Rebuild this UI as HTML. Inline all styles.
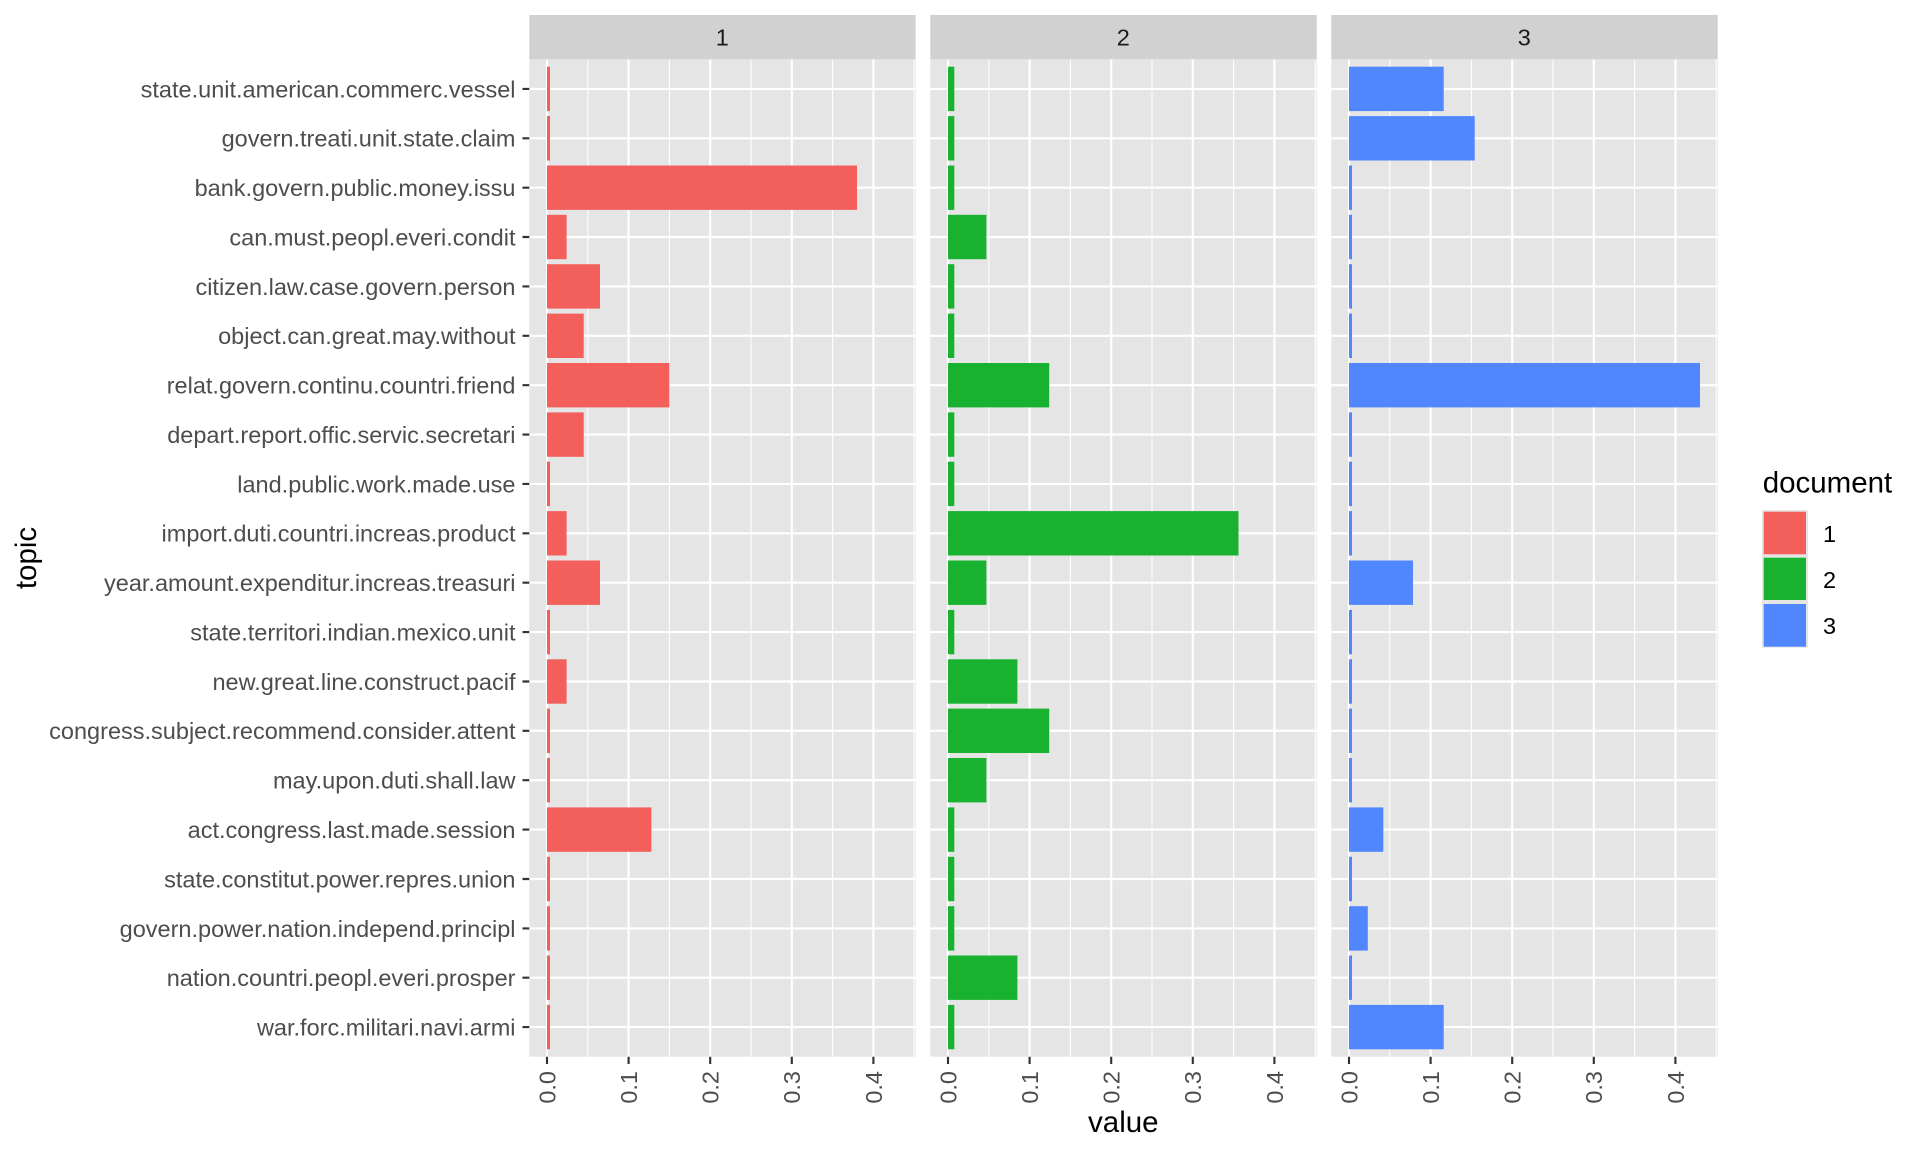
<!DOCTYPE html>
<html><head><meta charset="utf-8"><style>
html,body{margin:0;padding:0;background:#fff;}
svg{display:block;}
text{font-family:"Liberation Sans",Arial,sans-serif;}
</style></head><body>
<svg width="1920" height="1152" viewBox="0 0 1920 1152" xmlns="http://www.w3.org/2000/svg">
<defs>
<g id="panel">
<rect x="-17.7" y="59.3" width="386.4" height="997.4" fill="#E5E5E5"/>
<g stroke="#fff" stroke-width="1.07">
<line x1="40.8" y1="59.3" x2="40.8" y2="1056.7"/><line x1="122.4" y1="59.3" x2="122.4" y2="1056.7"/><line x1="204" y1="59.3" x2="204" y2="1056.7"/><line x1="285.6" y1="59.3" x2="285.6" y2="1056.7"/><line x1="367.2" y1="59.3" x2="367.2" y2="1056.7"/>
</g>
<g stroke="#fff" stroke-width="2.13">
<line x1="0" y1="59.3" x2="0" y2="1056.7"/><line x1="81.6" y1="59.3" x2="81.6" y2="1056.7"/><line x1="163.2" y1="59.3" x2="163.2" y2="1056.7"/><line x1="244.8" y1="59.3" x2="244.8" y2="1056.7"/><line x1="326.4" y1="59.3" x2="326.4" y2="1056.7"/>
<path d="M-17.7 88.9H368.7M-17.7 138.3H368.7M-17.7 187.7H368.7M-17.7 237H368.7M-17.7 286.4H368.7M-17.7 335.8H368.7M-17.7 385.2H368.7M-17.7 434.6H368.7M-17.7 483.9H368.7M-17.7 533.3H368.7M-17.7 582.7H368.7M-17.7 632.1H368.7M-17.7 681.5H368.7M-17.7 730.8H368.7M-17.7 780.2H368.7M-17.7 829.6H368.7M-17.7 879H368.7M-17.7 928.4H368.7M-17.7 977.7H368.7M-17.7 1027.1H368.7"/>
</g>
<rect x="-17.7" y="15" width="386.4" height="44.3" fill="#D1D1D1"/>
<g stroke="#333" stroke-width="2.13">
<path d="M0 1056.7V1064M81.6 1056.7V1064M163.2 1056.7V1064M244.8 1056.7V1064M326.4 1056.7V1064"/>
</g>
</g>
</defs>

<use href="#panel" transform="translate(547,0)"/>
<use href="#panel" transform="translate(948,0)"/>
<use href="#panel" transform="translate(1349,0)"/>

<g transform="translate(547,0)" fill="#F35F5B">
<rect x="0" y="66.7" width="3" height="44.4"/>
<rect x="0" y="116.1" width="3" height="44.4"/>
<rect x="0" y="165.5" width="310" height="44.4"/>
<rect x="0" y="214.8" width="19.6" height="44.4"/>
<rect x="0" y="264.2" width="53" height="44.4"/>
<rect x="0" y="313.6" width="36.7" height="44.4"/>
<rect x="0" y="363" width="122.4" height="44.4"/>
<rect x="0" y="412.4" width="36.7" height="44.4"/>
<rect x="0" y="461.7" width="3" height="44.4"/>
<rect x="0" y="511.1" width="19.6" height="44.4"/>
<rect x="0" y="560.5" width="53" height="44.4"/>
<rect x="0" y="609.9" width="3" height="44.4"/>
<rect x="0" y="659.3" width="19.6" height="44.4"/>
<rect x="0" y="708.6" width="3" height="44.4"/>
<rect x="0" y="758" width="3" height="44.4"/>
<rect x="0" y="807.4" width="104.4" height="44.4"/>
<rect x="0" y="856.8" width="3" height="44.4"/>
<rect x="0" y="906.2" width="3" height="44.4"/>
<rect x="0" y="955.5" width="3" height="44.4"/>
<rect x="0" y="1004.9" width="3" height="44.4"/>
</g>
<g transform="translate(948,0)" fill="#19B130">
<rect x="0" y="66.7" width="6.3" height="44.4"/>
<rect x="0" y="116.1" width="6.3" height="44.4"/>
<rect x="0" y="165.5" width="6.3" height="44.4"/>
<rect x="0" y="214.8" width="38.4" height="44.4"/>
<rect x="0" y="264.2" width="6.3" height="44.4"/>
<rect x="0" y="313.6" width="6.3" height="44.4"/>
<rect x="0" y="363" width="101.2" height="44.4"/>
<rect x="0" y="412.4" width="6.3" height="44.4"/>
<rect x="0" y="461.7" width="6.3" height="44.4"/>
<rect x="0" y="511.1" width="290.5" height="44.4"/>
<rect x="0" y="560.5" width="38.4" height="44.4"/>
<rect x="0" y="609.9" width="6.3" height="44.4"/>
<rect x="0" y="659.3" width="69.4" height="44.4"/>
<rect x="0" y="708.6" width="101.2" height="44.4"/>
<rect x="0" y="758" width="38.4" height="44.4"/>
<rect x="0" y="807.4" width="6.3" height="44.4"/>
<rect x="0" y="856.8" width="6.3" height="44.4"/>
<rect x="0" y="906.2" width="6.3" height="44.4"/>
<rect x="0" y="955.5" width="69.4" height="44.4"/>
<rect x="0" y="1004.9" width="6.3" height="44.4"/>
</g>
<g transform="translate(1349,0)" fill="#5087FF">
<rect x="0" y="66.7" width="94.7" height="44.4"/>
<rect x="0" y="116.1" width="125.7" height="44.4"/>
<rect x="0" y="165.5" width="3" height="44.4"/>
<rect x="0" y="214.8" width="3" height="44.4"/>
<rect x="0" y="264.2" width="3" height="44.4"/>
<rect x="0" y="313.6" width="3" height="44.4"/>
<rect x="0" y="363" width="351" height="44.4"/>
<rect x="0" y="412.4" width="3" height="44.4"/>
<rect x="0" y="461.7" width="3" height="44.4"/>
<rect x="0" y="511.1" width="3" height="44.4"/>
<rect x="0" y="560.5" width="64" height="44.4"/>
<rect x="0" y="609.9" width="3" height="44.4"/>
<rect x="0" y="659.3" width="3" height="44.4"/>
<rect x="0" y="708.6" width="3" height="44.4"/>
<rect x="0" y="758" width="3" height="44.4"/>
<rect x="0" y="807.4" width="34.3" height="44.4"/>
<rect x="0" y="856.8" width="3" height="44.4"/>
<rect x="0" y="906.2" width="18.8" height="44.4"/>
<rect x="0" y="955.5" width="3" height="44.4"/>
<rect x="0" y="1004.9" width="94.7" height="44.4"/>
</g>

<g font-size="23.5" fill="#1A1A1A" text-anchor="middle">
<text x="722.3" y="45.5">1</text>
<text x="1123.3" y="45.5">2</text>
<text x="1524.3" y="45.5">3</text>
</g>

<g stroke="#333" stroke-width="2.13">
<path d="M522.5 88.9H529.3M522.5 138.3H529.3M522.5 187.7H529.3M522.5 237H529.3M522.5 286.4H529.3M522.5 335.8H529.3M522.5 385.2H529.3M522.5 434.6H529.3M522.5 483.9H529.3M522.5 533.3H529.3M522.5 582.7H529.3M522.5 632.1H529.3M522.5 681.5H529.3M522.5 730.8H529.3M522.5 780.2H529.3M522.5 829.6H529.3M522.5 879H529.3M522.5 928.4H529.3M522.5 977.7H529.3M522.5 1027.1H529.3"/>
</g>
<g font-size="23.5" fill="#4D4D4D" text-anchor="end">
<text x="515.5" y="97.3">state.unit.american.commerc.vessel</text>
<text x="515.5" y="146.7">govern.treati.unit.state.claim</text>
<text x="515.5" y="196.1">bank.govern.public.money.issu</text>
<text x="515.5" y="245.4">can.must.peopl.everi.condit</text>
<text x="515.5" y="294.8">citizen.law.case.govern.person</text>
<text x="515.5" y="344.2">object.can.great.may.without</text>
<text x="515.5" y="393.6">relat.govern.continu.countri.friend</text>
<text x="515.5" y="443">depart.report.offic.servic.secretari</text>
<text x="515.5" y="492.3">land.public.work.made.use</text>
<text x="515.5" y="541.7">import.duti.countri.increas.product</text>
<text x="515.5" y="591.1">year.amount.expenditur.increas.treasuri</text>
<text x="515.5" y="640.5">state.territori.indian.mexico.unit</text>
<text x="515.5" y="689.9">new.great.line.construct.pacif</text>
<text x="515.5" y="739.2">congress.subject.recommend.consider.attent</text>
<text x="515.5" y="788.6">may.upon.duti.shall.law</text>
<text x="515.5" y="838">act.congress.last.made.session</text>
<text x="515.5" y="887.4">state.constitut.power.repres.union</text>
<text x="515.5" y="936.8">govern.power.nation.independ.principl</text>
<text x="515.5" y="986.1">nation.countri.peopl.everi.prosper</text>
<text x="515.5" y="1035.5">war.forc.militari.navi.armi</text>
</g>

<g font-size="23.5" fill="#4D4D4D" text-anchor="end">
<text transform="translate(555.4,1071) rotate(-90)">0.0</text>
<text transform="translate(637,1071) rotate(-90)">0.1</text>
<text transform="translate(718.6,1071) rotate(-90)">0.2</text>
<text transform="translate(800.2,1071) rotate(-90)">0.3</text>
<text transform="translate(881.8,1071) rotate(-90)">0.4</text>
<text transform="translate(956.4,1071) rotate(-90)">0.0</text>
<text transform="translate(1038,1071) rotate(-90)">0.1</text>
<text transform="translate(1119.6,1071) rotate(-90)">0.2</text>
<text transform="translate(1201.2,1071) rotate(-90)">0.3</text>
<text transform="translate(1282.8,1071) rotate(-90)">0.4</text>
<text transform="translate(1357.4,1071) rotate(-90)">0.0</text>
<text transform="translate(1439,1071) rotate(-90)">0.1</text>
<text transform="translate(1520.6,1071) rotate(-90)">0.2</text>
<text transform="translate(1602.2,1071) rotate(-90)">0.3</text>
<text transform="translate(1683.8,1071) rotate(-90)">0.4</text>
</g>

<text x="1123.3" y="1132" font-size="29.5" fill="#000" text-anchor="middle">value</text>
<text transform="translate(36,558) rotate(-90)" font-size="29.5" fill="#000" text-anchor="middle">topic</text>

<text x="1762.7" y="492.7" font-size="29.5" fill="#000">document</text>
<rect x="1762" y="510" width="46" height="137.7" fill="#E5E5E5"/>
<rect x="1763.7" y="511.7" width="42.3" height="42.6" fill="#F35F5B"/>
<rect x="1763.7" y="557.7" width="42.3" height="42.3" fill="#19B130"/>
<rect x="1763.7" y="604" width="42.3" height="42.7" fill="#5087FF"/>
<g font-size="23.5" fill="#000">
<text x="1823" y="542">1</text>
<text x="1823" y="588">2</text>
<text x="1823" y="634">3</text>
</g>
</svg>
</body></html>
